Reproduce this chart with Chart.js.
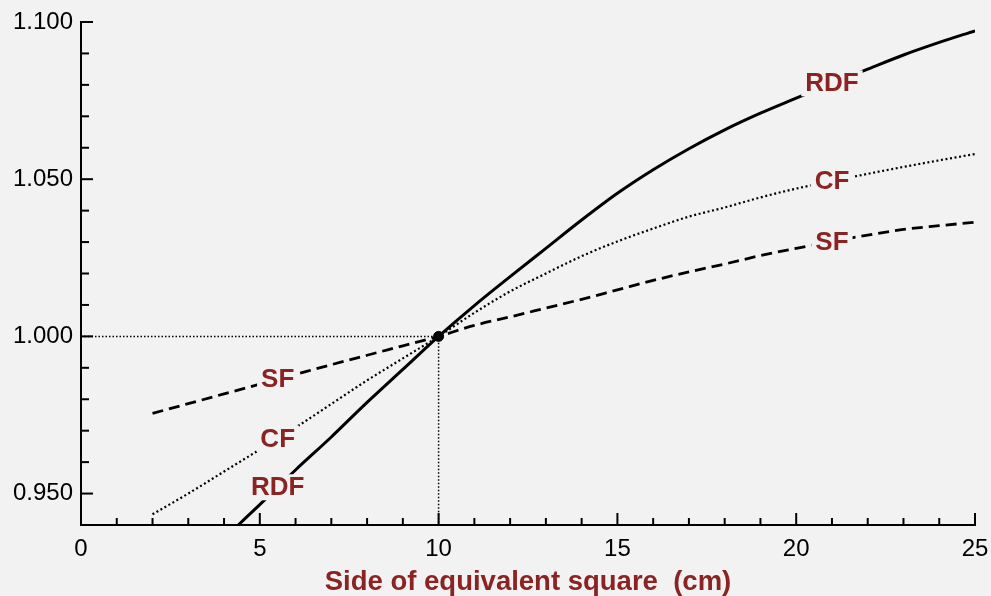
<!DOCTYPE html>
<html>
<head>
<meta charset="utf-8">
<script src="https://cdn.jsdelivr.net/npm/chart.js@4.4.1/dist/chart.umd.min.js"></script>
<style>
  html, body { margin: 0; padding: 0; background: #f2f2f2; }
  canvas { display: block; }
</style>
</head>
<body>
<canvas id="chart" width="991" height="596"></canvas>
<script>
// Field-size dependence of dosimetry factors, normalised at a 10 cm square field.
const rdfSide = [4.4, 5, 6, 7, 8, 9, 10, 11, 12, 13, 14, 15, 16, 17, 18, 19, 20, 21, 22, 23, 24, 25];
const rdfValues = [0.940, 0.9465, 0.9575, 0.968, 0.979, 0.9895, 1.000, 1.0098, 1.019, 1.028, 1.037, 1.0455,
                   1.053, 1.0597, 1.0657, 1.071, 1.0758, 1.0805, 1.085, 1.0895, 1.0935, 1.0972];

const cfSide = [2, 3, 4, 5, 6, 7, 8, 9, 10, 11, 12, 13, 14, 15, 16, 17, 18, 19, 20, 21, 22, 23, 24, 25];
const cfValues = [0.9434, 0.950, 0.957, 0.964, 0.971, 0.9785, 0.986, 0.993, 1.000, 1.0075, 1.0143, 1.020,
                  1.0255, 1.0302, 1.0343, 1.0381, 1.041, 1.0442, 1.047, 1.0494, 1.0517, 1.0539, 1.056, 1.058];

const sfSide = [2, 3, 4, 5, 6, 7, 8, 9, 10, 11, 12, 13, 14, 15, 16, 17, 18, 19, 20, 21, 22, 23, 24, 25];
const sfValues = [0.9755, 0.9786, 0.9817, 0.9848, 0.9879, 0.991, 0.994, 0.997, 1.000, 1.0035, 1.0062, 1.009,
                  1.0118, 1.0148, 1.0178, 1.0205, 1.023, 1.0257, 1.028, 1.0302, 1.0322, 1.034, 1.0352, 1.0363];

// Reference field (10 cm) where all factors equal 1.000
const refSide = [10];
const refValue = [1.000];

// Positions along the x axis where the curve names are written
const labelSides = [5.5, 21];

const xTitle = 'Side of equivalent square  (cm)';
const labelColor = '#8b2323';
const bgColor = '#f2f2f2';
const fontFamily = '"Liberation Sans", Arial, Helvetica, sans-serif';

const toPoints = (xs, ys) => xs.map((v, i) => ({ x: v, y: ys[i] }));

const curves = [
  { name: 'RDF', xs: rdfSide, ys: rdfValues },
  { name: 'CF',  xs: cfSide,  ys: cfValues },
  { name: 'SF',  xs: sfSide,  ys: sfValues }
];

function interp(xs, ys, xv) {
  for (let i = 0; i < xs.length - 1; i++) {
    if (xv >= xs[i] && xv <= xs[i + 1]) {
      const t = (xv - xs[i]) / (xs[i + 1] - xs[i]);
      return ys[i] + t * (ys[i + 1] - ys[i]);
    }
  }
  return ys[ys.length - 1];
}

// Tick marks pointing into the plot area, longer at labelled values
const inwardTicks = {
  id: 'inwardTicks',
  afterDraw(chart) {
    const { ctx, chartArea, scales: { x, y } } = chart;
    ctx.save();
    ctx.strokeStyle = '#000';
    ctx.lineWidth = 2;
    x.ticks.forEach(t => {
      const px = x.getPixelForValue(t.value);
      const major = Math.abs(t.value / 5 - Math.round(t.value / 5)) < 1e-6;
      ctx.beginPath();
      ctx.moveTo(px, chartArea.bottom);
      ctx.lineTo(px, chartArea.bottom - (major ? 12 : 7));
      ctx.stroke();
    });
    y.ticks.forEach(t => {
      const py = y.getPixelForValue(t.value);
      const major = Math.abs(t.value * 20 - Math.round(t.value * 20)) < 1e-6;
      ctx.beginPath();
      ctx.moveTo(chartArea.left, py);
      ctx.lineTo(chartArea.left + (major ? 12 : 8), py);
      ctx.stroke();
    });
    ctx.restore();
  }
};

// Curve names written on top of the lines, with a cleared box behind them
const lineLabels = {
  id: 'lineLabels',
  afterDatasetsDraw(chart) {
    const { ctx, scales: { x, y } } = chart;
    ctx.save();
    ctx.font = 'bold 26px ' + fontFamily;
    ctx.textAlign = 'center';
    ctx.textBaseline = 'middle';
    curves.forEach(c => {
      labelSides.forEach(xv => {
        const yv = interp(c.xs, c.ys, xv);
        const px = x.getPixelForValue(xv);
        const py = y.getPixelForValue(yv);
        const w = ctx.measureText(c.name).width;
        ctx.fillStyle = bgColor;
        ctx.fillRect(px - w / 2 - 4, py - 13, w + 8, 26);
        ctx.fillStyle = labelColor;
        ctx.fillText(c.name, px, py + 1);
      });
    });
    ctx.restore();
  }
};

const canvasBg = {
  id: 'canvasBg',
  beforeDraw(chart) {
    const { ctx, width, height } = chart;
    ctx.save();
    ctx.fillStyle = bgColor;
    ctx.fillRect(0, 0, width, height);
    ctx.restore();
  }
};

new Chart(document.getElementById('chart'), {
  type: 'line',
  data: {
    datasets: [
      {
        label: 'ref point',
        data: toPoints(refSide, refValue),
        showLine: false,
        pointRadius: 5,
        pointBackgroundColor: '#000',
        pointBorderColor: '#000'
      },
      {
        label: 'RDF',
        data: toPoints(rdfSide, rdfValues),
        borderColor: '#000',
        borderWidth: 3,
        pointRadius: 0,
        cubicInterpolationMode: 'monotone'
      },
      {
        label: 'CF',
        data: toPoints(cfSide, cfValues),
        borderColor: '#000',
        borderWidth: 2.2,
        borderDash: [2, 2.6],
        pointRadius: 0,
        cubicInterpolationMode: 'monotone'
      },
      {
        label: 'SF',
        data: toPoints(sfSide, sfValues),
        borderColor: '#000',
        borderWidth: 2.8,
        borderDash: [11, 6],
        pointRadius: 0,
        cubicInterpolationMode: 'monotone'
      },
      {
        label: 'guide',
        data: [
          { x: 0, y: refValue[0] },
          { x: refSide[0], y: refValue[0] },
          { x: refSide[0], y: 0.94 }
        ],
        borderColor: '#000',
        borderWidth: 1.5,
        borderDash: [1.5, 2],
        pointRadius: 0,
        tension: 0
      }
    ]
  },
  options: {
    responsive: false,
    animation: false,
    events: [],
    layout: { padding: { top: 22, right: 16, left: 0, bottom: 0 } },
    plugins: {
      legend: { display: false },
      tooltip: { enabled: false }
    },
    scales: {
      x: {
        type: 'linear',
        min: 0,
        max: 25,
        afterFit(scale) {
          scale.height = 71;
          scale.paddingLeft = 0;
          scale.paddingRight = 0;
        },
        grid: { display: true, drawOnChartArea: false, drawTicks: false },
        border: { display: true, color: '#000', width: 2 },
        ticks: {
          stepSize: 1,
          autoSkip: false,
          maxRotation: 0,
          padding: 10,
          color: '#000',
          font: { family: fontFamily, size: 24 },
          callback: v => (Math.abs(v / 5 - Math.round(v / 5)) < 1e-6 ? String(Math.round(v)) : '')
        },
        title: {
          display: true,
          text: xTitle,
          color: labelColor,
          font: { family: fontFamily, size: 27.5, weight: 'bold', lineHeight: 1 },
          padding: { top: 0, bottom: 0 }
        }
      },
      y: {
        type: 'linear',
        min: 0.94,
        max: 1.10,
        afterFit(scale) {
          scale.width = 81;
          scale.paddingTop = 0;
          scale.paddingBottom = 0;
        },
        grid: { display: true, drawOnChartArea: false, drawTicks: false },
        border: { display: true, color: '#000', width: 2 },
        ticks: {
          stepSize: 0.01,
          autoSkip: false,
          padding: 8,
          color: '#000',
          font: { family: fontFamily, size: 24 },
          callback: v => (Math.abs(v * 20 - Math.round(v * 20)) < 1e-6 ? v.toFixed(3) : '')
        }
      }
    }
  },
  plugins: [canvasBg, inwardTicks, lineLabels]
});
</script>
</body>
</html>
